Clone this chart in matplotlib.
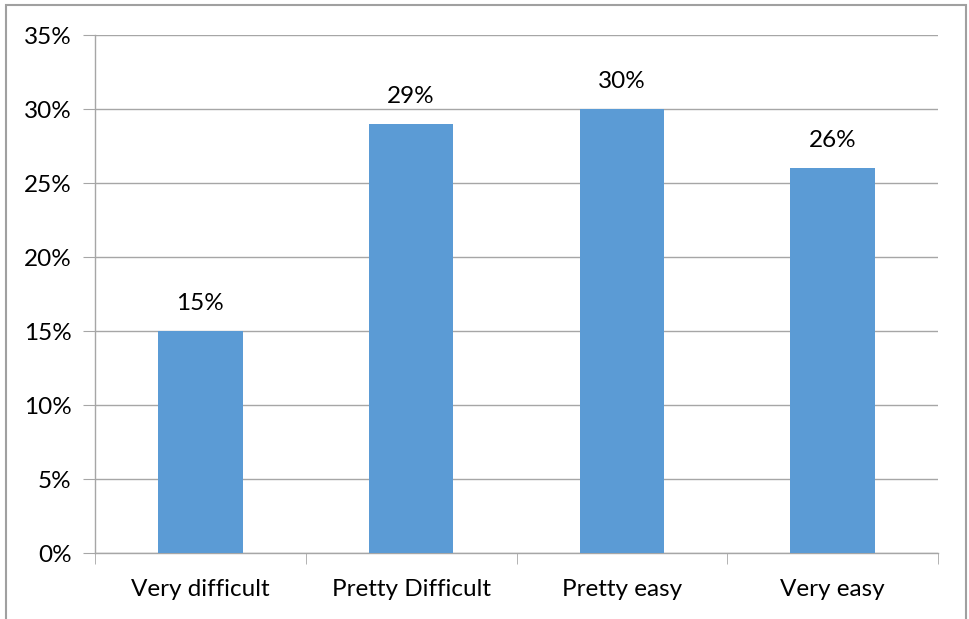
import matplotlib
matplotlib.use("Agg")

import matplotlib.pyplot as plt
import numpy as np
from matplotlib.patches import Rectangle
from matplotlib.ticker import FixedLocator, FuncFormatter

categories = ["Very difficult", "Pretty Difficult", "Pretty easy", "Very easy"]
shares = [15, 29, 30, 26]
y_ticks = [0, 5, 10, 15, 20, 25, 30, 35]

BAR_COLOR = "#5B9BD5"
GRID_COLOR = "#A6A6A6"
FONT_SIZE = 17.5

plt.rcParams["font.family"] = ["Lato", "DejaVu Sans"]

fig = plt.figure(figsize=(9.69, 6.19), dpi=100)
ax = fig.add_axes([95 / 969, 1 - 553 / 619, 843 / 969, 518 / 619])

# outer chart frame (bottom edge runs off the canvas)
fig.patches.append(Rectangle((6 / 969, -0.05), 960 / 969, 1.05 - 5 / 619,
                             transform=fig.transFigure, fill=False,
                             edgecolor="#A0A0A0", linewidth=1.5))

x = np.arange(len(categories))
bars = ax.bar(x, shares, width=0.4, color=BAR_COLOR, zorder=3)

for xi, val in zip(x, shares):
    ax.annotate(f"{val}%", (xi, val), xytext=(0, 20), textcoords="offset points",
                ha="center", va="center", fontsize=FONT_SIZE, color="#000000")

ax.set_xlim(-0.5, len(categories) - 0.5)
ax.set_ylim(0, 35)
ax.set_yticks(y_ticks)
ax.yaxis.set_major_formatter(FuncFormatter(lambda v, _: f"{v:.0f}%"))
ax.grid(axis="y", color=GRID_COLOR, linewidth=1, zorder=0)

ax.set_xticks(x)
ax.set_xticklabels(categories, fontsize=FONT_SIZE)
ax.xaxis.set_minor_locator(FixedLocator(np.arange(-0.5, len(categories), 1.0)))
ax.tick_params(axis="x", which="major", length=0, pad=19)
ax.tick_params(axis="x", which="minor", length=8, color=GRID_COLOR, direction="out")
ax.tick_params(axis="y", length=9, color=GRID_COLOR, direction="out",
               labelsize=FONT_SIZE, pad=8)

for side in ["top", "right"]:
    ax.spines[side].set_visible(False)
for side in ["left", "bottom"]:
    ax.spines[side].set_color(GRID_COLOR)
    ax.spines[side].set_linewidth(1)

fig.savefig("out.png", dpi=100)
plt.close(fig)
